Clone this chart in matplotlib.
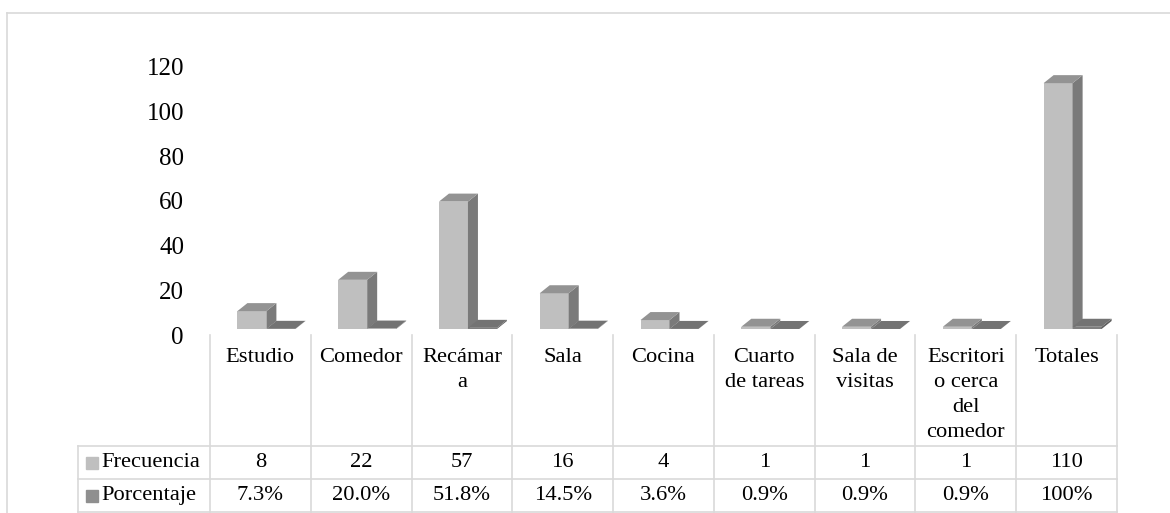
import numpy as np
import matplotlib.pyplot as plt
from matplotlib.patches import Polygon, Rectangle
from matplotlib.transforms import ScaledTranslation

# datos del gráfico
categorias = ['Estudio', 'Comedor', 'Recámar\na', 'Sala', 'Cocina', 'Cuarto\nde tareas',
              'Sala de\nvisitas', 'Escritori\no cerca\ndel\ncomedor', 'Totales']
frecuencia = [8, 22, 57, 16, 4, 1, 1, 1, 110]
porcentaje = [0.073, 0.200, 0.518, 0.145, 0.036, 0.009, 0.009, 0.009, 1.0]
porcentaje_txt = ['7.3%', '20.0%', '51.8%', '14.5%', '3.6%', '0.9%', '0.9%', '0.9%', '100%']
series = ['Frecuencia', 'Porcentaje']
yticks = [0, 20, 40, 60, 80, 100, 120]

plt.rcParams['font.family'] = ['Liberation Serif', 'DejaVu Serif']

W, H = 1170, 513
fig = plt.figure(figsize=(W / 100, H / 100), dpi=100)
fig.patch.set_facecolor('white')

def fx(px):
    return px / W

def fy(py):
    return 1 - py / H

# geometria (pixeles)
col_izq, col_der = 210, 1117
base_y = 329
px_por_unidad = 2.235
top_y = base_y - 120 * px_por_unidad
px_col = (col_der - col_izq) / len(categorias)
fs_tabla = 16.2
fs_eje = 18

# ejes del grafico
ax = fig.add_axes([fx(col_izq), fy(base_y), fx(col_der - col_izq), (base_y - top_y) / H])
ax.set_xlim(-0.5, len(categorias) - 0.5)
ax.set_ylim(0, 120)
ax.set_facecolor('none')
for s in ax.spines.values():
    s.set_visible(False)
ax.set_xticks([])
ax.set_yticks(yticks)
ax.set_yticklabels([str(t) for t in yticks], fontsize=fs_eje)
ax.tick_params(axis='y', length=0, pad=(col_izq - 184) * 0.72)
off = ScaledTranslation(0, -6 / 100, fig.dpi_scale_trans)
for lbl in ax.get_yticklabels():
    lbl.set_transform(lbl.get_transform() + off)

# efecto 3D
dx = 10 / px_col
dy = 8 / px_por_unidad
ancho = 29 / px_col
x0_s1 = -23 / px_col
colores = [
    {'front': '#bfbfbf', 'top': '#939393', 'side': '#7a7a7a'},
    {'front': '#7f7f7f', 'top': '#737373', 'side': '#5e5e5e'},
]

def barra3d(x0, v, c):
    x1 = x0 + ancho
    ax.add_patch(Rectangle((x0, 0), ancho, v, facecolor=c['front'], edgecolor='none', clip_on=False))
    ax.add_patch(Polygon([(x1, 0), (x1, v), (x1 + dx, v + dy), (x1 + dx, dy)],
                         closed=True, facecolor=c['side'], edgecolor='none', clip_on=False))
    ax.add_patch(Polygon([(x0, v), (x1, v), (x1 + dx, v + dy), (x0 + dx, v + dy)],
                         closed=True, facecolor=c['top'], edgecolor='none', clip_on=False))

for i in range(len(categorias)):
    barra3d(i + x0_s1, frecuencia[i], colores[0])
    barra3d(i + x0_s1 + ancho, porcentaje[i], colores[1])

# tabla de datos
fila_h = 33
tab_top, tab_bot = 335, 512
tb = fig.add_axes([fx(col_izq), fy(tab_bot), fx(col_der - col_izq), (tab_bot - tab_top) / H])
tb.set_xlim(-0.5, len(categorias) - 0.5)
tb.set_ylim(0, (tab_bot - tab_top) / fila_h)
tb.axis('off')
y_top = (tab_bot - tab_top) / fila_h
x_leg = -0.5 - (col_izq - 78) / px_col
gris = '#d9d9d9'

for k in range(3):
    tb.plot([x_leg, len(categorias) - 0.5], [k, k], color=gris, lw=1.2, clip_on=False)
tb.plot([x_leg, x_leg], [0, 2], color=gris, lw=1.2, clip_on=False)
for k in range(len(categorias) + 1):
    tb.plot([k - 0.5, k - 0.5], [0, y_top], color=gris, lw=1.2, clip_on=False)

y_cat = (tab_bot - 348) / fila_h
for i, cat in enumerate(categorias):
    tb.text(i, y_cat, cat, ha='center', va='top', fontsize=fs_tabla, linespacing=1.42)
    tb.text(i, 1.5, str(frecuencia[i]), ha='center', va='center', fontsize=fs_tabla)
    tb.text(i, 0.5, porcentaje_txt[i], ha='center', va='center', fontsize=fs_tabla)

leg_colores = ['#bfbfbf', '#8f8f8f']
for k, nombre in enumerate(series):
    yy = 1.5 - k
    tb.plot([x_leg + 14 / px_col], [yy], marker='s', markersize=8.5, color=leg_colores[k],
            clip_on=False, linestyle='none')
    tb.text(x_leg + 23 / px_col, yy, nombre, ha='left', va='center', fontsize=fs_tabla)

# borde exterior
fig.add_artist(plt.Line2D([fx(7), 1], [fy(13), fy(13)], color=gris, lw=1.2))
fig.add_artist(plt.Line2D([fx(7), fx(7)], [fy(13), 0], color=gris, lw=1.2))

fig.savefig('out.png', dpi=100, facecolor='white')
